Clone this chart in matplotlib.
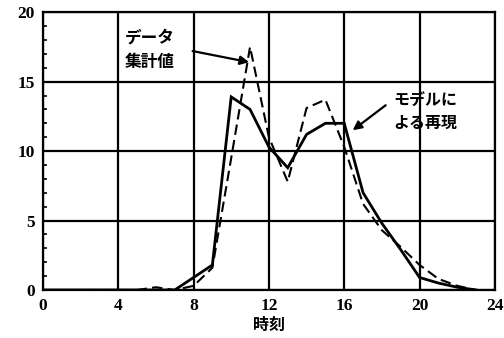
import matplotlib
matplotlib.use("Agg")
import matplotlib.pyplot as plt
from matplotlib.ticker import MultipleLocator

hours = [0, 1, 2, 3, 4, 5, 6, 7, 8, 9, 10, 11, 12, 13, 14, 15, 16, 17, 18, 19, 20, 21, 22, 23]
data_values = [0, 0, 0, 0, 0, 0, 0.2, 0, 0.3, 1.6, 9.5, 17.5, 11.0, 7.8, 13.1, 13.7, 10.3, 6.2, 4.3, 3.1, 1.8, 0.8, 0.3, 0]
model_values = [0, 0, 0, 0, 0, 0, 0, 0, 0.9, 1.8, 13.9, 13.0, 10.3, 8.8, 11.2, 12.0, 12.0, 7.0, 4.8, 2.9, 0.9, 0.5, 0.2, 0]
x_ticks = [0, 4, 8, 12, 16, 20, 24]
y_ticks = [0, 5, 10, 15, 20]
xlabel = "時刻"
label_data = "データ\n集計値"
label_model = "モデルに\nよる再現"

fig = plt.figure(figsize=(5.04, 3.38), dpi=100)
ax = fig.add_axes([0.085, 0.142, 0.897, 0.822])

ax.plot(hours, model_values, color="black", lw=2.0, solid_joinstyle="miter")
ax.plot(hours, data_values, color="black", lw=1.5, ls=(0, (5, 2.5)))

ax.set_xlim(0, 24)
ax.set_ylim(0, 20)
ax.set_xticks(x_ticks)
ax.set_yticks(y_ticks)
ax.yaxis.set_minor_locator(MultipleLocator(1))
ax.grid(True, which="major", color="black", lw=1.6)
ax.tick_params(which="major", length=0, pad=6)
ax.tick_params(axis="y", which="minor", direction="in", length=3, width=1.2)
for s in ax.spines.values():
    s.set_linewidth(1.6)

for lab in ax.get_xticklabels() + ax.get_yticklabels():
    lab.set_fontfamily("Liberation Serif")
    lab.set_fontweight("bold")
    lab.set_fontsize(12.5)

jp = ["Noto Sans CJK JP", "DejaVu Sans"]
ax.set_xlabel(xlabel, family=jp, fontweight="bold", fontsize=11.5, labelpad=2)

ax.text(4.35, 17.3, label_data, family=jp, fontweight="bold", fontsize=12,
        va="center", ha="left", linespacing=1.45)
ax.annotate("", xy=(10.95, 16.4), xytext=(7.95, 17.2),
            arrowprops=dict(arrowstyle="-|>", color="black", lw=1.6, mutation_scale=13,
                            shrinkA=0, shrinkB=0))
ax.text(18.6, 12.85, label_model, family=jp, fontweight="bold", fontsize=11.5,
        va="center", ha="left", linespacing=1.45)
ax.annotate("", xy=(16.45, 11.5), xytext=(18.2, 13.3),
            arrowprops=dict(arrowstyle="-|>", color="black", lw=1.6, mutation_scale=13,
                            shrinkA=0, shrinkB=0))

fig.savefig("out.png", dpi=100)
